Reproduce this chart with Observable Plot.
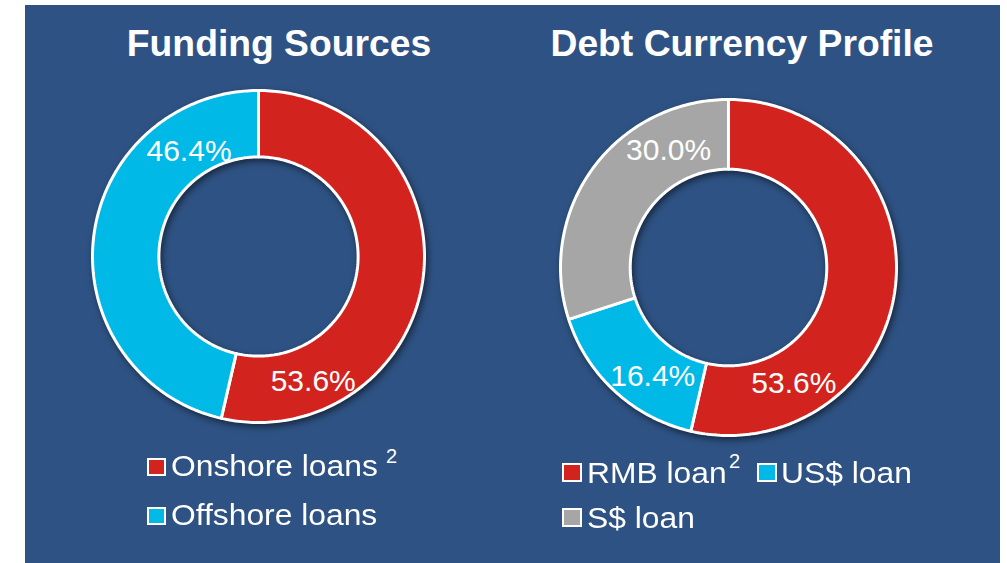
<!DOCTYPE html>
<html>
<head>
<meta charset="utf-8">
<script src="https://cdn.jsdelivr.net/npm/d3@7"></script>
<script src="https://cdn.jsdelivr.net/npm/@observablehq/plot@0.6"></script>
<style>
  html, body { margin: 0; padding: 0; background: #ffffff; }
  body { width: 1007px; height: 563px; position: relative; overflow: hidden; font-family: "Liberation Sans", Arial, sans-serif; }
  #bg { position: absolute; left: 25px; top: 5px; width: 975px; height: 558px; background: #2E5283; }
  .title { position: absolute; color: #fff; font-weight: bold; font-size: 36px; line-height: 36px; white-space: nowrap; transform: translateX(-50%) scaleX(1.035); }
  .chart { position: absolute; }
  .donut g[aria-label="line"] { filter: drop-shadow(2px 3px 3px rgba(0,0,0,0.5)); }
  .lg { position: absolute; color: #fff; font-size: 30px; line-height: 30px; white-space: nowrap; transform-origin: 0 0; transform: scaleX(1.06); }
  .sup { position: absolute; color: #fff; font-size: 20px; line-height: 20px; }
  .sw { position: absolute; box-sizing: border-box; border: 2.5px solid #fff; }
</style>
</head>
<body>
<div id="bg"></div>
<script>
// ---- data ----
const fundingTitle = "Funding Sources";
const fundingCategories = ["Onshore loans", "Offshore loans"];
const fundingValues = [53.6, 46.4];

const debtTitle = "Debt Currency Profile";
const debtCategories = ["RMB loan", "US$ loan", "S$ loan"];
const debtValues = [53.6, 16.4, 30.0];

// ---- styling / layout ----
const RED = "#D2231E", CYAN = "#00B9E7", GRAY = "#A6A6A6";
const fundingColors = [RED, CYAN];
const debtColors = [RED, CYAN, GRAY];

function donut({categories, values, colors, outerPx, innerRatio, labelFrac, labelR, cx, cy}) {
  const total = d3.sum(values);
  const pts = [];
  const labels = [];
  let acc = 0;
  values.forEach((v, i) => {
    const a0 = acc / total * 2 * Math.PI;
    acc += v;
    const a1 = acc / total * 2 * Math.PI;
    const n = Math.max(8, Math.ceil((a1 - a0) / (Math.PI / 180)));
    for (let k = 0; k <= n; k++) {
      const a = a0 + (a1 - a0) * k / n;
      pts.push({key: categories[i], x: Math.sin(a), y: Math.cos(a)});
    }
    for (let k = n; k >= 0; k--) {
      const a = a0 + (a1 - a0) * k / n;
      pts.push({key: categories[i], x: innerRatio * Math.sin(a), y: innerRatio * Math.cos(a)});
    }
    const am = a0 + (a1 - a0) * labelFrac[i];
    labels.push({x: labelR[i] * Math.sin(am), y: labelR[i] * Math.cos(am), text: v.toFixed(1) + "%"});
  });
  const m = 6;
  const S = 2 * outerPx + 2 * m;
  const svg = Plot.plot({
    width: S, height: S, margin: m,
    className: "donut",
    style: {background: "transparent", overflow: "visible"},
    x: {domain: [-1, 1], axis: null},
    y: {domain: [-1, 1], axis: null},
    color: {domain: categories, range: colors},
    marks: [
      Plot.line(pts, {x: "x", y: "y", z: "key", fill: "key", stroke: "white", strokeWidth: 3, curve: "linear-closed", strokeLinejoin: "miter"}),
      Plot.text(labels, {x: "x", y: "y", text: "text", fill: "white", fontSize: 30, fontFamily: "Liberation Sans, Arial, sans-serif"})
    ]
  });
  svg.querySelectorAll('g[aria-label="text"] text').forEach(t => {
    const tx = t.getAttribute("x"), ty = t.getAttribute("y");
    if (tx != null && ty != null) {
      t.style.transformOrigin = `${tx}px ${ty}px`;
      t.style.scale = "1.07 1";
    }
  });
  svg.classList.add("chart");
  svg.style.position = "absolute";
  svg.style.left = (cx - S / 2) + "px";
  svg.style.top = (cy - S / 2) + "px";
  document.body.appendChild(svg);
}

donut({categories: fundingCategories, values: fundingValues, colors: fundingColors,
  outerPx: 166, innerRatio: 0.6, labelFrac: [0.81, 0.80], labelR: [0.82, 0.76], cx: 258, cy: 256});
donut({categories: debtCategories, values: debtValues, colors: debtColors,
  outerPx: 168, innerRatio: 0.585, labelFrac: [0.78, 0.37, 0.75], labelR: [0.79, 0.79, 0.785], cx: 728, cy: 267});

function addDiv(cls, text, left, top, extra) {
  const d = document.createElement("div");
  d.className = cls;
  d.textContent = text;
  d.style.left = left + "px";
  d.style.top = top + "px";
  if (extra) Object.assign(d.style, extra);
  document.body.appendChild(d);
  return d;
}

// titles
addDiv("title", fundingTitle, 279, 26);
addDiv("title", debtTitle, 742, 26);

// legends
function swatch(color, left, top, w, h) {
  addDiv("sw", "", left, top, {width: w + "px", height: h + "px", background: color});
}
// left legend
swatch(fundingColors[0], 147, 458, 19, 18);
addDiv("lg", fundingCategories[0], 171, 451);
addDiv("sup", "2", 386, 446);
swatch(fundingColors[1], 147, 507, 19, 18);
addDiv("lg", fundingCategories[1], 171, 500);
// right legend
swatch(debtColors[0], 562, 463, 20, 19);
addDiv("lg", debtCategories[0], 587, 458);
addDiv("sup", "2", 729, 451);
swatch(debtColors[1], 757, 463, 20, 19);
addDiv("lg", debtCategories[1], 781, 458);
swatch(debtColors[2], 562, 508, 20, 19);
addDiv("lg", debtCategories[2], 587, 503);
</script>
</body>
</html>
